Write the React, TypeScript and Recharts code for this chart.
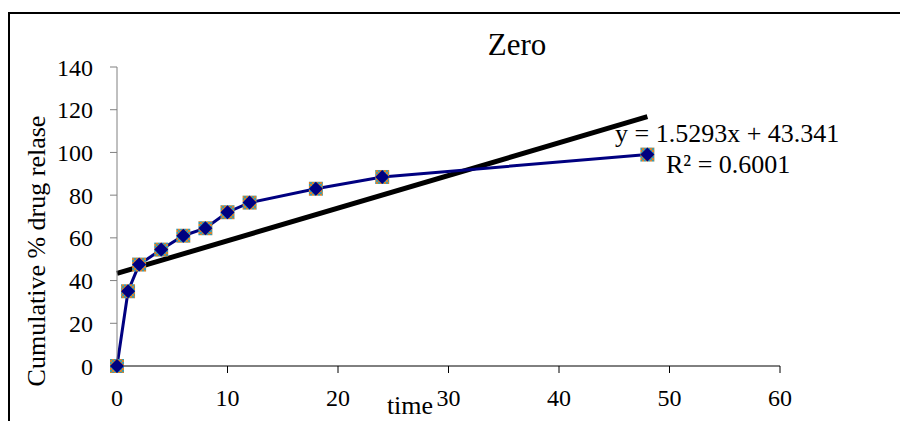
import { ComposedChart, Line, XAxis, YAxis, Label } from 'recharts';

const times = [0, 1, 2, 4, 6, 8, 10, 12, 18, 24, 48];
const release = [0, 35, 47.5, 54.5, 61, 64.5, 72, 76.5, 83, 88.5, 99];
const xTicks = [0, 10, 20, 30, 40, 50, 60];
const yTicks = [0, 20, 40, 60, 80, 100, 120, 140];
const slope = 1.5293;
const intercept = 43.341;

const releaseData = times.map((t, i) => ({ time: t, release: release[i] }));
const trendData = [times[0], times[times.length - 1]].map((t) => ({ time: t, trend: slope * t + intercept }));

const FONT = '"Liberation Serif", "Times New Roman", serif';

function Marker(props: any) {
  const { cx, cy, index } = props;
  if (cx == null || cy == null) return null;
  const id = `mk-${index}`;
  return (
    <g>
      <defs>
        <pattern id={id} width="4" height="4" patternUnits="userSpaceOnUse">
          <rect width="4" height="4" fill="#d9822b" />
          <rect width="2" height="2" fill="#3f9bab" />
          <rect x="2" y="2" width="2" height="2" fill="#3f9bab" />
        </pattern>
      </defs>
      <rect x={cx - 7} y={cy - 7} width={14} height={14} fill={`url(#${id})`} />
      <path d={`M${cx},${cy - 7} L${cx + 7},${cy} L${cx},${cy + 7} L${cx - 7},${cy} Z`} fill="#000080" />
    </g>
  );
}

export default function App() {
  return (
    <div style={{ position: 'relative', width: 900, height: 413, overflow: 'hidden', fontFamily: FONT }}>
      <div style={{ position: 'absolute', left: 0, top: 4, width: 960, height: 500, borderTop: '2px solid #000', borderLeft: '2px solid #000' }} />
      <ComposedChart width={900} height={413} margin={{ top: 59, right: 128, left: 49, bottom: 15 }}>
        <XAxis
          dataKey="time"
          type="number"
          domain={[0, 60]}
          ticks={xTicks}
          allowDuplicatedCategory={false}
          stroke="#000"
          tickSize={7}
          tickMargin={16}
          height={40}
          tick={{ fill: '#000', fontSize: 24, fontFamily: FONT }}
        >
          <Label
            content={() => (
              <text x={402} y={406} textAnchor="middle" fontSize={26} fontFamily={FONT} fill="#000">time</text>
            )}
          />
        </XAxis>
        <YAxis
          type="number"
          domain={[0, 140]}
          ticks={yTicks}
          stroke="#808080"
          tickSize={7}
          tickMargin={17}
          width={60}
          tick={{ fill: '#000', fontSize: 24, fontFamily: FONT }}
        >
          <Label
            content={() => (
              <text x={37} y={243} transform="rotate(-90 37 243)" textAnchor="middle" fontSize={26} fontFamily={FONT} fill="#000">
                Cumulative % drug relase
              </text>
            )}
          />
        </YAxis>
        <Line
          data={trendData}
          dataKey="trend"
          stroke="#000"
          strokeWidth={5}
          dot={false}
          isAnimationActive={false}
        />
        <Line
          data={releaseData}
          dataKey="release"
          stroke="#000080"
          strokeWidth={3}
          dot={<Marker />}
          activeDot={false}
          isAnimationActive={false}
        />
        <text x={509} y={47} textAnchor="middle" fontSize={31} fontFamily={FONT} fill="#000">Zero</text>
        <text x={607} y={134} fontSize={26} fontFamily={FONT} fill="#000">y = 1.5293x + 43.341</text>
        <text x={658} y={165} fontSize={26} fontFamily={FONT} fill="#000">R² = 0.6001</text>
      </ComposedChart>
    </div>
  );
}
